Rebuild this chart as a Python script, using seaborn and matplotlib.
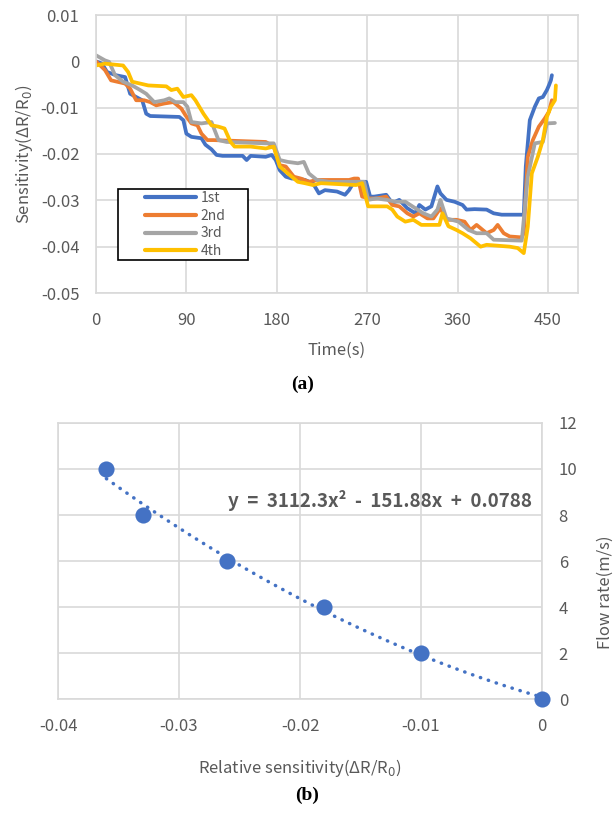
import numpy as np
import pandas as pd
import matplotlib
matplotlib.use("Agg")
import matplotlib.pyplot as plt
from matplotlib.patches import Rectangle
import seaborn as sns

# ---------------- data: panel (a) ----------------
runs = ["1st", "2nd", "3rd", "4th"]
run_colors = ["#4472C4", "#ED7D31", "#A5A5A5", "#FFC000"]

t_1st = [0, 6, 11, 20, 29, 34, 40, 46, 50, 54, 83, 87, 90, 95, 105, 109, 115, 120, 126, 146, 150, 154,
         169, 175, 179, 183, 189, 195, 201, 208, 216, 222, 228, 240, 248, 252, 257, 269, 273, 277, 289,
         295, 302, 310, 318, 322, 328, 334, 340, 343, 349, 357, 365, 369, 377, 389, 396, 404, 426, 428,
         432, 437, 441, 445, 449, 451, 453, 454]
v_1st = [0.0, -0.0005, -0.0023, -0.0030, -0.0034, -0.0070, -0.0077, -0.0084, -0.0113, -0.0118, -0.0120,
         -0.0127, -0.0156, -0.0163, -0.0166, -0.0180, -0.0190, -0.0202, -0.0204, -0.0204, -0.0213, -0.0204,
         -0.0206, -0.0202, -0.0213, -0.0235, -0.0249, -0.0253, -0.0253, -0.0256, -0.0263, -0.0285, -0.0278,
         -0.0281, -0.0288, -0.0278, -0.0260, -0.0260, -0.0292, -0.0292, -0.0288, -0.0306, -0.0299, -0.0317,
         -0.0328, -0.0310, -0.0320, -0.0313, -0.0270, -0.0285, -0.0299, -0.0303, -0.0310, -0.0320, -0.0319,
         -0.0320, -0.0328, -0.0331, -0.0331, -0.0227, -0.0127, -0.0098, -0.0080, -0.0077, -0.0062, -0.0052,
         -0.0041, -0.0030]

t_2nd = [0, 9, 15, 21, 29, 34, 40, 48, 54, 60, 68, 77, 81, 85, 89, 95, 101, 105, 111, 117, 169, 177, 183,
         189, 197, 204, 212, 220, 252, 257, 261, 265, 273, 279, 289, 295, 302, 310, 316, 322, 330, 336,
         343, 349, 359, 367, 373, 379, 389, 396, 400, 406, 412, 424, 426, 430, 435, 441, 447, 451, 454]
v_2nd = [0.0, -0.0019, -0.0041, -0.0044, -0.0048, -0.0059, -0.0084, -0.0084, -0.0088, -0.0095, -0.0091,
         -0.0088, -0.0095, -0.0102, -0.0116, -0.0134, -0.0138, -0.0156, -0.0170, -0.0170, -0.0174, -0.0184,
         -0.0224, -0.0227, -0.0249, -0.0253, -0.0260, -0.0256, -0.0256, -0.0253, -0.0253, -0.0292, -0.0296,
         -0.0296, -0.0292, -0.0310, -0.0313, -0.0328, -0.0335, -0.0328, -0.0339, -0.0339, -0.0317, -0.0342,
         -0.0342, -0.0346, -0.0364, -0.0353, -0.0371, -0.0364, -0.0353, -0.0371, -0.0378, -0.0380, -0.0371,
         -0.0206, -0.0170, -0.0141, -0.0123, -0.0109, -0.0084]

t_3rd = [0, 9, 13, 19, 27, 36, 44, 50, 58, 68, 73, 79, 87, 91, 95, 105, 115, 122, 130, 169, 177, 183, 191,
         201, 207, 212, 220, 232, 267, 271, 279, 290, 298, 308, 318, 326, 334, 340, 343, 349, 361, 371,
         379, 389, 396, 424, 430, 437, 445, 449, 457]
v_3rd = [0.0013, 0.0002, -0.0001, -0.0030, -0.0044, -0.0052, -0.0062, -0.0070, -0.0088, -0.0084, -0.0080,
         -0.0088, -0.0088, -0.0098, -0.0131, -0.0134, -0.0131, -0.0170, -0.0174, -0.0177, -0.0177, -0.0213,
         -0.0217, -0.0220, -0.0217, -0.0242, -0.0256, -0.0260, -0.0260, -0.0299, -0.0296, -0.0299, -0.0303,
         -0.0303, -0.0317, -0.0328, -0.0335, -0.0320, -0.0299, -0.0339, -0.0346, -0.0364, -0.0371, -0.0371,
         -0.0385, -0.0387, -0.0249, -0.0177, -0.0174, -0.0134, -0.0133]

t_4th = [0, 9, 27, 32, 36, 44, 52, 70, 75, 81, 87, 95, 99, 107, 115, 122, 128, 134, 138, 154, 169, 177, 183,
         191, 201, 208, 216, 224, 259, 265, 271, 290, 295, 300, 308, 316, 324, 342, 345, 351, 359, 365,
         373, 383, 389, 412, 420, 426, 430, 434, 440, 445, 449, 453, 457, 458]
v_4th = [-0.0009, -0.0005, -0.0009, -0.0023, -0.0044, -0.0048, -0.0052, -0.0054, -0.0062, -0.0059, -0.0077,
         -0.0073, -0.0084, -0.0113, -0.0138, -0.0141, -0.0145, -0.0174, -0.0184, -0.0184, -0.0188, -0.0184,
         -0.0227, -0.0242, -0.0260, -0.0263, -0.0267, -0.0263, -0.0267, -0.0263, -0.0313, -0.0313, -0.0320,
         -0.0335, -0.0346, -0.0342, -0.0353, -0.0353, -0.0328, -0.0356, -0.0364, -0.0371, -0.0382, -0.0400,
         -0.0396, -0.0400, -0.0403, -0.0414, -0.0357, -0.0242, -0.0206, -0.0170, -0.0120, -0.0098, -0.0084,
         -0.0052]

time_ticks = [0, 90, 180, 270, 360, 450]
sens_ticks = [0.01, 0, -0.01, -0.02, -0.03, -0.04, -0.05]

# ---------------- data: panel (b) ----------------
rel_sens = [-0.036, -0.033, -0.026, -0.018, -0.010, 0.0]
flow_rate = [10, 8, 6, 4, 2, 0]
rel_ticks = [-0.04, -0.03, -0.02, -0.01, 0]
flow_ticks = [0, 2, 4, 6, 8, 10, 12]
equation = "y  =  3112.3x²  -  151.88x  +  0.0788"

# ---------------- style ----------------
sns.set_theme(style="white")
plt.rcParams["font.family"] = ["Noto Sans CJK KR", "DejaVu Sans"]
TXT = "#595959"
GRID = "#D9D9D9"


def fmt(v):
    if v == 0:
        return "0"
    return ("%g" % v)


fig = plt.figure(figsize=(6.14, 8.16), dpi=100)
W, H = 614.0, 816.0

# ---------------- panel (a) ----------------
ax1 = fig.add_axes([96 / W, 1 - 293 / H, (578 - 96) / W, (293 - 15) / H])
frames = []
for name, t, v in [("1st", t_1st, v_1st), ("2nd", t_2nd, v_2nd), ("3rd", t_3rd, v_3rd), ("4th", t_4th, v_4th)]:
    frames.append(pd.DataFrame({"Time": t, "Sens": v, "Run": name}))
df = pd.concat(frames, ignore_index=True)
sns.lineplot(data=df, x="Time", y="Sens", hue="Run", hue_order=runs, palette=run_colors,
             estimator=None, sort=False, linewidth=2.7, ax=ax1, legend=True)
ax1.set_xlim(0, 480)
ax1.set_ylim(-0.05, 0.01)
ax1.set_xticks(time_ticks)
ax1.set_xticklabels([str(x) for x in time_ticks])
ax1.set_yticks(sens_ticks)
ax1.set_yticklabels([fmt(v) for v in sens_ticks])
ax1.grid(True, color=GRID, linewidth=1.2)
ax1.set_axisbelow(True)
for s in ax1.spines.values():
    s.set_color(GRID)
    s.set_linewidth(1.2)
ax1.tick_params(axis="both", length=0, labelsize=12, colors=TXT)
ax1.tick_params(axis="x", pad=14)
ax1.tick_params(axis="y", pad=12)
ax1.set_xlabel("")
ax1.set_ylabel("Sensitivity(ΔR/R$_0$)", color=TXT, fontsize=12, labelpad=4)

# legend box (black frame) with centred entries
bx0, bx1 = (118 - 96) / 482, (248 - 96) / 482
by0, by1 = (293 - 260) / 278, (293 - 189) / 278
ax1.add_patch(Rectangle((bx0, by0), bx1 - bx0, by1 - by0, transform=ax1.transAxes,
                        facecolor="white", edgecolor="black", linewidth=1.2, zorder=9))
handles, labels = ax1.get_legend_handles_labels()
leg = ax1.legend(handles, labels, loc="center", bbox_to_anchor=((bx0 + bx1) / 2 + 0.004, (by0 + by1) / 2),
                 frameon=False, fontsize=10, handlelength=3.7, handletextpad=0.3,
                 labelspacing=0.28, borderpad=0.1, borderaxespad=0)
leg.set_zorder(10)
for tx in leg.get_texts():
    tx.set_color(TXT)
for ln in leg.get_lines():
    ln.set_linewidth(3)

fig.text(337 / W, 1 - 350 / H, "Time(s)", ha="center", va="center", fontsize=12, color=TXT)
fig.text(303 / W, 1 - 384 / H, "(a)", ha="center", va="center", fontsize=14, fontweight="bold",
         family="Liberation Serif", color="black")

# ---------------- panel (b) ----------------
ax2 = fig.add_axes([58 / W, 1 - 699 / H, (542 - 58) / W, (699 - 423) / H])
sns.regplot(x=rel_sens, y=flow_rate, order=2, ci=None, scatter=False, truncate=True, ax=ax2,
            line_kws=dict(color="#4472C4", linewidth=2.5, linestyle=(0, (0.1, 2.3)),
                          dash_capstyle="round", solid_capstyle="round"))
sns.scatterplot(x=rel_sens, y=flow_rate, s=135, color="#4472C4", edgecolor="#4472C4", linewidth=0,
                ax=ax2, zorder=5, clip_on=False)
ax2.set_xlim(-0.04, 0)
ax2.set_ylim(0, 12)
ax2.set_xticks(rel_ticks)
ax2.set_xticklabels([fmt(v) for v in rel_ticks])
ax2.set_yticks(flow_ticks)
ax2.set_yticklabels([str(v) for v in flow_ticks])
ax2.yaxis.tick_right()
ax2.grid(True, color=GRID, linewidth=1.2)
ax2.set_axisbelow(True)
for s in ax2.spines.values():
    s.set_color(GRID)
    s.set_linewidth(1.2)
ax2.tick_params(axis="both", length=0, labelsize=12, colors=TXT)
ax2.tick_params(axis="x", pad=14)
ax2.tick_params(axis="y", pad=12)
ax2.text(-0.00085, 8.65, equation, ha="right", va="center", fontsize=13.5, fontweight="bold", color=TXT)
fig.text(300 / W, 1 - 768 / H, "Relative sensitivity(ΔR/R$_0$)", ha="center", va="center",
         fontsize=12, color=TXT)
fig.text(605 / W, 1 - 592 / H, "Flow rate(m/s)", ha="center", va="center", rotation=90,
         fontsize=12, color=TXT)
fig.text(307 / W, 1 - 795 / H, "(b)", ha="center", va="center", fontsize=14, fontweight="bold",
         family="Liberation Serif", color="black")

fig.savefig("out.png", dpi=100)
